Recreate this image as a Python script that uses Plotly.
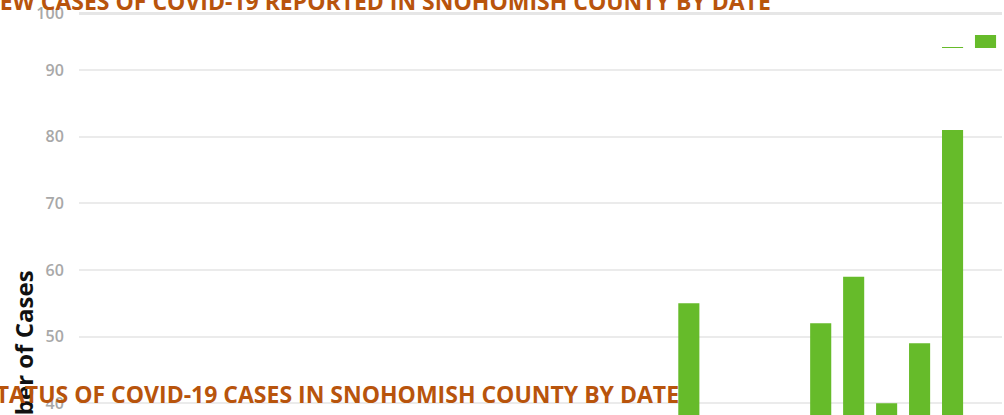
import plotly.graph_objects as go

# ---- data ----
dates = ["2/20", "2/21", "2/22", "2/23", "2/24", "2/25", "2/26", "2/27", "2/28", "2/29",
         "3/1", "3/2", "3/3", "3/4", "3/5", "3/6", "3/7", "3/8", "3/9", "3/10",
         "3/11", "3/12", "3/13", "3/14", "3/15", "3/16", "3/17", "3/18"]
new_cases = [0, 0, 0, 0, 0, 0, 0, 1, 1, 2,
             3, 4, 6, 8, 10, 14, 18, 25, 55, 30,
             22, 35, 52, 59, 40, 49, 81, 12]
# values seen in the overlapping top strip of the picture
strip_dates = ["3/17", "3/18"]
strip_cases = [94.9, 96.7]

main_ticks = [40, 50, 60, 70, 80, 90]
strip_ticks = [100]

title_top = "NEW CASES OF COVID-19 REPORTED IN SNOHOMISH COUNTY BY DATE"
title_bottom = "STATUS OF COVID-19 CASES IN SNOHOMISH COUNTY BY DATE"
y_title = "Number of Cases"

# ---- layout constants ----
W, H = 1004, 415
ML, MR = 79, 2
BAR = "#66bb2a"
GRID = "#ebebeb"
TICK_FONT = dict(family="Open Sans", size=16, color="#a8a8a8", weight=600)
TITLE_FONT = dict(family="Open Sans", size=23.0, color="#b8540c", weight=700)
split = 1 - 48 / H

fig = go.Figure()
fig.add_trace(go.Bar(x=dates, y=new_cases, marker=dict(color=BAR, line=dict(width=0)),
                     xaxis="x", yaxis="y", showlegend=False))
fig.add_trace(go.Bar(x=strip_dates, y=strip_cases, marker=dict(color=BAR, line=dict(width=0)),
                     xaxis="x2", yaxis="y2", showlegend=False))

def px_x(p):
    return (p - ML) / (W - ML - MR)

def px_y(p):
    return 1 - p / H

fig.update_layout(
    width=W, height=H,
    margin=dict(l=ML, r=MR, t=0, b=0),
    paper_bgcolor="white", plot_bgcolor="white",
    bargap=0.36,
    xaxis=dict(domain=[0, 1], type="category", categoryorder="array", categoryarray=dates,
               range=[-0.5, len(dates) - 0.5], showticklabels=False, showgrid=False,
               zeroline=False, showline=False, anchor="y"),
    xaxis2=dict(domain=[0, 1], type="category", categoryorder="array", categoryarray=dates,
                range=[-0.5, len(dates) - 0.5], showticklabels=False, showgrid=False,
                zeroline=False, showline=False, anchor="y2", matches="x"),
    yaxis=dict(domain=[0, split], range=[38.25, 93.3], tickvals=main_ticks,
               gridcolor=GRID, gridwidth=1.5, zeroline=False, showline=False,
               ticks="outside", ticklen=11, tickcolor="rgba(0,0,0,0)",
               tickfont=TICK_FONT, anchor="x"),
    yaxis2=dict(domain=[split, 1], range=[94.75, 101.95], tickvals=strip_ticks,
                gridcolor="#e6e6e6", gridwidth=2.5, zeroline=False, showline=False,
                ticks="outside", ticklen=11, tickcolor="rgba(0,0,0,0)",
                tickfont=TICK_FONT, anchor="x2"),
    annotations=[
        dict(text=y_title, xref="paper", yref="paper", x=px_x(23), y=px_y(372),
             xanchor="center", yanchor="middle", textangle=-90, showarrow=False,
             font=dict(family="Open Sans", size=24, color="#111111", weight=700)),
        dict(text=title_top, xref="paper", yref="paper", x=px_x(773), y=px_y(1),
             xanchor="right", yanchor="middle", showarrow=False, font=TITLE_FONT),
        dict(text=title_bottom, xref="paper", yref="paper", x=px_x(681), y=px_y(394),
             xanchor="right", yanchor="middle", showarrow=False, font=TITLE_FONT),
    ],
)

fig.write_html("out.html", config={"displayModeBar": False},
               post_script="document.body.style.margin='0';")
